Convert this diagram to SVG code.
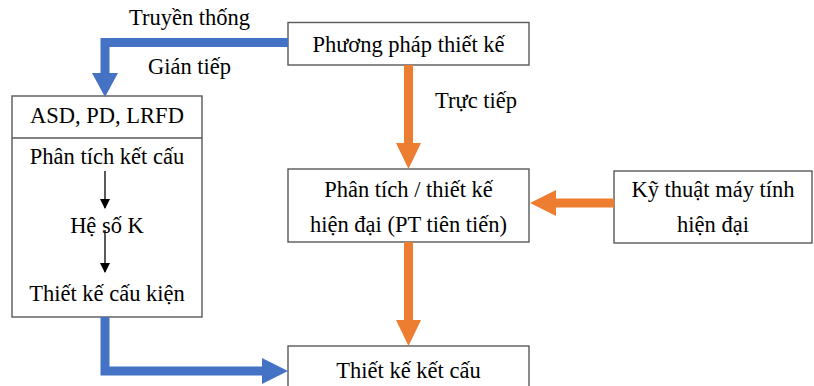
<svg xmlns="http://www.w3.org/2000/svg" width="814" height="386" viewBox="0 0 814 386">
<style>
.box{fill:#fff;stroke:#595959;stroke-width:1.4}
.t{font-family:'Liberation Serif','Times New Roman','DejaVu Serif',serif;font-size:22.5px;fill:#000;text-anchor:middle}
.tl{font-family:'Liberation Serif','Times New Roman','DejaVu Serif',serif;font-size:22.5px;fill:#000}
.blue{fill:none;stroke:#4472C4;stroke-width:9}
.orange{fill:none;stroke:#ED7D31;stroke-width:9}
.bh{fill:#4472C4}
.oh{fill:#ED7D31}
.thin{stroke:#000;stroke-width:1.3;fill:none}
</style>
<defs>
<marker id="ah" markerWidth="10" markerHeight="10" refX="9" refY="5" orient="auto" markerUnits="userSpaceOnUse">
<path d="M0,0 L10,5 L0,10 Z" fill="#000"/>
</marker>
</defs>
<rect width="814" height="386" fill="#fff"/>
<g id="node-phuongphap">
<rect class="box" x="288" y="22.5" width="241" height="42.5"/>
<text class="t" x="408.5" y="52">Phương pháp thiết kế</text>
</g>
<g id="node-asd">
<rect class="box" x="12" y="96" width="190" height="221"/>
<line x1="12" y1="138" x2="202" y2="138" stroke="#595959" stroke-width="1.4"/>
<text class="t" x="107" y="123">ASD, PD, LRFD</text>
<text class="t" x="107" y="164">Phân tích kết cấu</text>
<text class="t" x="107" y="233">Hệ số K</text>
<text class="t" x="107" y="301">Thiết kế cấu kiện</text>
</g>
<g id="node-phantich">
<rect class="box" x="288" y="169" width="241" height="73"/>
<text class="t" x="408.5" y="197">Phân tích / thiết kế</text>
<text class="t" x="408.5" y="232">hiện đại (PT tiên tiến)</text>
</g>
<g id="node-kythuat">
<rect class="box" x="614" y="171" width="198" height="72"/>
<text class="t" x="713" y="197">Kỹ thuật máy tính</text>
<text class="t" x="713" y="232">hiện đại</text>
</g>
<g id="node-thietke">
<rect class="box" x="288" y="346" width="241" height="60"/>
<text class="t" x="408.5" y="378">Thiết kế kết cấu</text>
</g>
<g id="connectors">
<path class="blue" d="M288,42.5 H105 V74"/>
<polygon class="bh" points="92,73 118,73 105,97"/>
<path class="blue" d="M105,317 V371 H263"/>
<polygon class="bh" points="262,358 262,384 288,371"/>
<path class="orange" d="M408.5,65 V144"/>
<polygon class="oh" points="396,143 421,143 408.5,169"/>
<path class="orange" d="M408.5,242 V321"/>
<polygon class="oh" points="396,320 421,320 408.5,346"/>
<path class="orange" d="M614,203 H555"/>
<polygon class="oh" points="556,190 556,216 530,203"/>
<line class="thin" x1="105" y1="171" x2="105" y2="208" marker-end="url(#ah)"/>
<line class="thin" x1="105" y1="230" x2="105" y2="272" marker-end="url(#ah)"/>
<text class="tl" x="129" y="25">Truyền thống</text>
<text class="tl" x="148" y="74">Gián tiếp</text>
<text class="tl" x="435" y="108">Trực tiếp</text>
</g>
</svg>
